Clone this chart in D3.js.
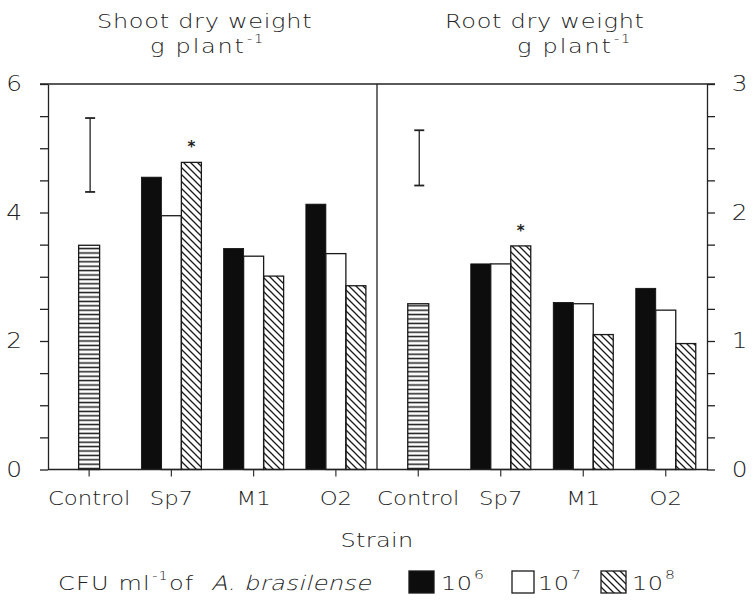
<!DOCTYPE html>
<html><head><meta charset="utf-8">
<script src="https://cdn.jsdelivr.net/npm/d3@7"></script>
<style>
body{margin:0;background:#fff}
svg text{font-family:"DejaVu Sans","Liberation Sans",sans-serif;fill:#222;font-weight:300}
</style></head><body>
<svg id="c" width="753" height="610"></svg>
<script>
// ---- data ----
const strains = ["Control", "Sp7", "M1", "O2"];
const doses = ["10^6", "10^7", "10^8"];
const shootControl = 3.49;
const shootSp7 = [4.55, 3.95, 4.78];
const shootM1 = [3.44, 3.32, 3.01];
const shootO2 = [4.13, 3.36, 2.86];
const rootControl = 1.29;
const rootSp7 = [1.60, 1.60, 1.74];
const rootM1 = [1.30, 1.29, 1.05];
const rootO2 = [1.41, 1.24, 0.98];
const shootLSD = [4.32, 5.47];
const rootLSD = [2.21, 2.64];
const shootTickLabels = [0, 2, 4, 6];
const rootTickLabels = [0, 1, 2, 3];
const significant = ["Sp7"]; // asterisk on 10^8 bar

// ---- layout ----
const L = 48, M = 377, R = 707, T = 84, B = 469.5;
const SX = 1.2;
const svg = d3.select("#c");
const defs = svg.append("defs");
defs.append("pattern").attr("id", "diag").attr("patternUnits", "userSpaceOnUse")
  .attr("width", 7).attr("height", 7)
  .append("path").attr("d", "M0,0L7,7M-2,5L2,9M5,-2L9,2")
  .attr("stroke", "#1a1a1a").attr("stroke-width", 1.3);
const hp = defs.append("pattern").attr("id", "horiz").attr("patternUnits", "userSpaceOnUse")
  .attr("width", 6).attr("height", 4.4);
hp.append("rect").attr("width", 6).attr("height", 4.4).attr("fill", "#fff");
hp.append("line").attr("x1", 0).attr("x2", 6).attr("y1", 2.2).attr("y2", 2.2)
  .attr("stroke", "#1a1a1a").attr("stroke-width", 1.5);

const yS = d3.scaleLinear().domain([0, 6]).range([B, T]);
const yR = d3.scaleLinear().domain([0, 3]).range([B, T]);
const xS = d3.scaleBand().domain(strains).range([L, M]).paddingInner(0.2705).paddingOuter(0.13525);
const xR = d3.scaleBand().domain(strains).range([M, R]).paddingInner(0.2727).paddingOuter(0.13636);

function panel(x, y, control, groups, lsd) {
  const g = svg.append("g");
  const inner = d3.scaleBand().domain(doses).range([0, x.bandwidth()]);
  const cw = inner.bandwidth() + 1;
  g.append("rect").attr("x", x("Control") + x.bandwidth() / 2 - cw / 2).attr("width", cw)
    .attr("y", y(control)).attr("height", y(0) - y(control))
    .attr("fill", "url(#horiz)").attr("stroke", "#1a1a1a").attr("stroke-width", 1.3);
  const rows = [];
  groups.forEach((vals, k) => vals.forEach((v, i) => rows.push({ s: strains[k + 1], d: doses[i], i, v })));
  const fills = ["#0d0d0d", "#fff", "url(#diag)"];
  [0, 1, 2].forEach(i => {
    g.selectAll(null).data(rows.filter(r => r.i === i)).join("rect")
      .attr("x", r => x(r.s) + inner(r.d)).attr("width", inner.bandwidth())
      .attr("y", r => y(r.v)).attr("height", r => y(0) - y(r.v))
      .attr("fill", fills[i]).attr("stroke", i === 0 ? "#0d0d0d" : "#1a1a1a").attr("stroke-width", i === 0 ? 0.8 : 1.3);
  });
  rows.filter(r => r.i === 2 && significant.includes(r.s)).forEach(r => {
    g.append("text").attr("x", x(r.s) + inner(r.d) + inner.bandwidth() / 2).attr("y", y(r.v) - 10)
      .attr("text-anchor", "middle").style("font-size", "15px").style("font-weight", "700").text("*");
  });
  const ex = x("Control") + x.bandwidth() / 2 + 1;
  g.append("line").attr("x1", ex).attr("x2", ex).attr("y1", y(lsd[0])).attr("y2", y(lsd[1]))
    .attr("stroke", "#222").attr("stroke-width", 1.3);
  lsd.forEach(v => g.append("line").attr("x1", ex - 5).attr("x2", ex + 5).attr("y1", y(v)).attr("y2", y(v))
    .attr("stroke", "#222").attr("stroke-width", 1.8));
}
panel(xS, yS, shootControl, [shootSp7, shootM1, shootO2], shootLSD);
panel(xR, yR, rootControl, [rootSp7, rootM1, rootO2], rootLSD);

// frame lines
const ln = (x1, y1, x2, y2) => svg.append("line").attr("x1", x1).attr("y1", y1).attr("x2", x2).attr("y2", y2)
  .attr("stroke", "#222").attr("stroke-width", 1.3);
ln(L - 8, T, R + 8, T);
ln(M, T, M, B);
ln(L, B, R, B);

// axes
const axL = svg.append("g").attr("transform", `translate(${L},0)`)
  .call(d3.axisLeft(yS).tickValues(d3.range(0, 6.01, 0.5)).tickSize(8).tickSizeOuter(0).tickPadding(14)
    .tickFormat(d => shootTickLabels.includes(d) ? d : ""));
const axR = svg.append("g").attr("transform", `translate(${R},0)`)
  .call(d3.axisRight(yR).tickValues(d3.range(0, 3.01, 0.25)).tickSize(8).tickSizeOuter(0).tickPadding(13)
    .tickFormat(d => rootTickLabels.includes(d) ? d : ""));
[axL, axR].forEach(a => {
  a.select(".domain").attr("stroke", "#222").attr("stroke-width", 1.3);
  a.selectAll(".tick line").attr("stroke", "#222").attr("stroke-width", 1.3);
  a.selectAll("text").style("font-size", "21px").style("font-family", null).attr("fill", null)
    .attr("transform", "scale(1.18,1)");
});
[xS, xR].forEach(x => {
  const a = svg.append("g").attr("transform", `translate(0,${B})`)
    .call(d3.axisBottom(x).tickSize(7).tickSizeOuter(0).tickPadding(14));
  a.select(".domain").remove();
  a.selectAll(".tick line").attr("stroke", "#333").attr("stroke-width", 1.2);
  a.selectAll("text").style("font-size", "20px").style("font-family", null).attr("fill", null)
    .attr("transform", "scale(1.14,1)");
});

// wide text helper: pieces = [[string, {sup, size, down}] ...]
function wtxt(x, y, pieces, size, ls, anchor, skew) {
  const t = svg.append("g").attr("transform", `translate(${x},${y}) scale(${SX},1)` + (skew ? ` skewX(${skew})` : ""))
    .append("text").style("font-size", size + "px").style("letter-spacing", ls + "px");
  if (anchor) t.attr("text-anchor", anchor);
  pieces.forEach(p => {
    const [s, o = {}] = Array.isArray(p) ? p : [p];
    const ts = t.append("tspan").text(s);
    if (o.sup) ts.style("font-size", (o.size || 12) + "px").attr("dy", -o.sup).attr("dx", o.dx || 1);
    if (o.down) ts.attr("dy", o.down);
  });
  return t;
}
wtxt(97, 27.5, ["Shoot dry weight"], 20, 0.6);
wtxt(150, 53, ["g plant", ["-1", { sup: 10, size: 12 }]], 20, 1.5);
wtxt(445, 27.5, ["Root dry weight"], 20, 0.6);
wtxt(517, 53, ["g plant", ["-1", { sup: 10, size: 12 }]], 20, 1.5);
wtxt(377, 547, ["Strain"], 20, 0.3, "middle");

// legend
const LY = 590;
wtxt(58, LY, ["CFU ml", ["-1", { sup: 10, size: 12 }], ["of", { down: 10 }]], 20, 1);
wtxt(211, LY, ["A. brasilense"], 20, 0.4, null, -13);
const legX = [409, 512, 601];
const legLab = [441, 538, 632];
doses.forEach((d, i) => {
  svg.append("rect").attr("x", legX[i]).attr("y", 571).attr("width", i === 1 ? 22 : 25).attr("height", 22)
    .attr("fill", ["#0d0d0d", "#fff", "url(#diag)"][i]).attr("stroke", "#1a1a1a").attr("stroke-width", 1.3);
  wtxt(legLab[i], LY, ["10", [d.split("^")[1], { sup: 11, size: 13 }]], 20, 0.5);
});
</script>
</body></html>
